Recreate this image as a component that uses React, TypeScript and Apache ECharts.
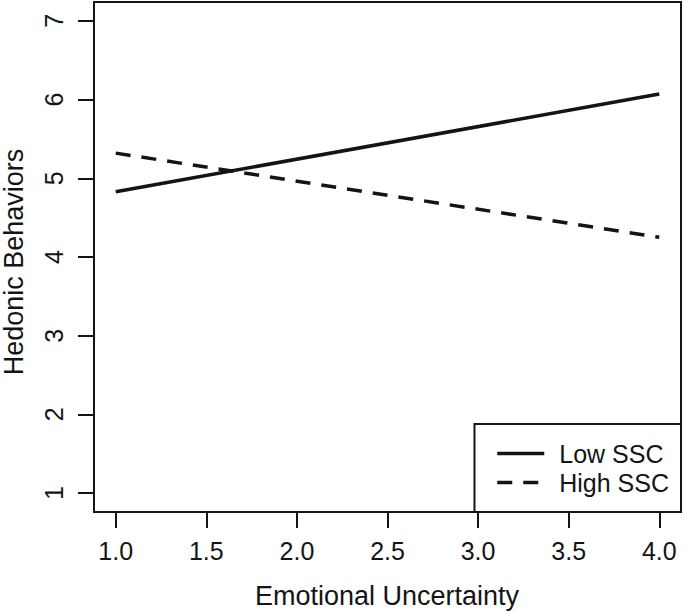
import React, { useEffect, useRef } from "react";
import * as echarts from "echarts";

const xTicks = [1.0, 1.5, 2.0, 2.5, 3.0, 3.5, 4.0];
const yTicks = [1, 2, 3, 4, 5, 6, 7];
const xEnds = [1.0, 4.0];
const lowSSC = [4.83, 6.07];
const highSSC = [5.32, 4.25];
const seriesNames = ["Low SSC", "High SSC"];
const xTitle = "Emotional Uncertainty";
const yTitle = "Hedonic Behaviors";

const FONT = "'Liberation Sans', Arial, Helvetica, sans-serif";
const INK = "#141414";

export default function App() {
  const ref = useRef<HTMLDivElement>(null);
  useEffect(() => {
    if (!ref.current) return;
    const chart = echarts.init(ref.current, null, { renderer: "svg" });
    const lineData = (ys: number[]) => xEnds.map((x, i) => [x, ys[i]]);
    chart.setOption({
      animation: false,
      backgroundColor: "#fff",
      grid: {
        left: 94,
        top: 2,
        right: 4,
        bottom: 102,
        show: true,
        borderColor: INK,
        borderWidth: 2,
        backgroundColor: "transparent",
      },
      xAxis: {
        type: "value",
        min: 0.88,
        max: 4.12,
        axisLine: { show: false },
        splitLine: { show: false },
        axisTick: {
          show: true,
          customValues: xTicks,
          length: 16,
          lineStyle: { color: INK, width: 2 },
        },
        axisLabel: {
          customValues: xTicks,
          margin: 26,
          fontSize: 25,
          fontFamily: FONT,
          color: INK,
          formatter: (v: number) => v.toFixed(1),
        },
      },
      yAxis: {
        type: "value",
        min: 0.76,
        max: 7.24,
        axisLine: { show: false },
        splitLine: { show: false },
        axisTick: {
          show: true,
          customValues: yTicks,
          length: 16,
          lineStyle: { color: INK, width: 2 },
        },
        axisLabel: {
          customValues: yTicks,
          rotate: 90,
          margin: 28,
          fontSize: 25,
          fontFamily: FONT,
          color: INK,
          formatter: (v: number) => String(Math.round(v)),
        },
      },
      legend: {
        data: seriesNames,
        orient: "vertical",
        right: 4,
        bottom: 102,
        padding: [15, 12, 15, 21],
        itemGap: 0,
        itemWidth: 47,
        itemHeight: 14,
        backgroundColor: "#fff",
        borderColor: INK,
        borderWidth: 2,
        borderRadius: 0,
        itemStyle: { opacity: 0 },
        lineStyle: { width: 3.5, color: INK },
        textStyle: {
          fontSize: 25,
          fontFamily: FONT,
          color: INK,
          lineHeight: 29,
          padding: [0, 0, 0, 10],
        },
      },
      graphic: [
        {
          type: "text",
          x: 387,
          y: 596,
          style: {
            text: xTitle,
            fontSize: 27,
            fontFamily: FONT,
            fill: INK,
            textAlign: "center",
            textVerticalAlign: "middle",
          },
        },
        {
          type: "text",
          x: 14,
          y: 262,
          rotation: Math.PI / 2,
          style: {
            text: yTitle,
            fontSize: 27,
            fontFamily: FONT,
            fill: INK,
            textAlign: "center",
            textVerticalAlign: "middle",
          },
        },
      ],
      series: [
        {
          name: seriesNames[0],
          type: "line",
          data: lineData(lowSSC),
          showSymbol: false,
          symbol: "none",
          lineStyle: { color: INK, width: 3.5, type: "solid" },
          itemStyle: { color: INK },
        },
        {
          name: seriesNames[1],
          type: "line",
          data: lineData(highSSC),
          showSymbol: false,
          symbol: "none",
          lineStyle: { color: INK, width: 3.5, type: [15, 11] },
          itemStyle: { color: INK },
        },
      ],
    });
    return () => chart.dispose();
  }, []);
  return (
    <div
      ref={ref}
      style={{ position: "fixed", left: 0, top: 0, width: 685, height: 614 }}
    />
  );
}
